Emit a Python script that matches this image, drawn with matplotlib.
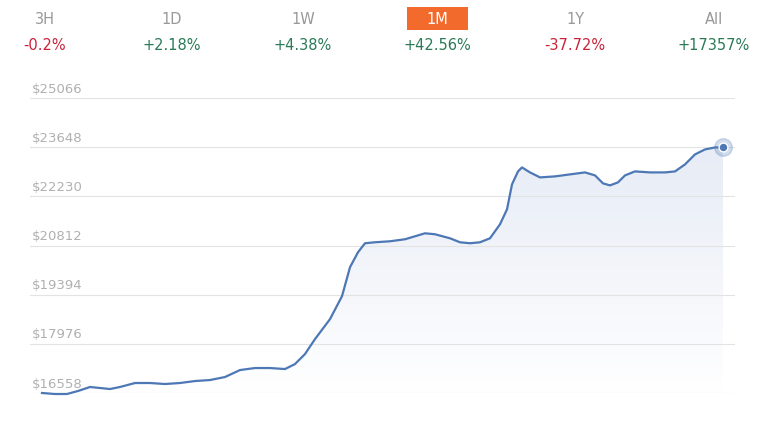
import matplotlib
matplotlib.use("Agg")
import matplotlib.pyplot as plt
import numpy as np
from matplotlib.patches import FancyBboxPatch

periods = ["3H", "1D", "1W", "1M", "1Y", "All"]
changes = ["-0.2%", "+2.18%", "+4.38%", "+42.56%", "-37.72%", "+17357%"]
ticks = [16558, 17976, 19394, 20812, 22230, 23648, 25066]
t = [0, 13, 25, 36, 48, 58, 68, 78, 93, 108, 123, 138, 153, 168, 183, 198, 213, 228, 243, 253, 263, 273,
     288, 300, 308, 316, 323, 333, 348, 363, 373, 383, 393, 408, 418, 428, 438, 448, 458, 465, 470, 476,
     480, 488, 498, 513, 528, 543, 553, 561, 568, 576, 583, 593, 608, 623, 633, 643, 653, 663, 673, 681]
price = [16558, 16529, 16529, 16616, 16731, 16702, 16673, 16731, 16846, 16846, 16817, 16846, 16903, 16932,
         17019, 17220, 17278, 17278, 17249, 17393, 17681, 18113, 18688, 19351, 20186, 20617, 20877, 20905,
         20934, 20992, 21078, 21164, 21136, 21020, 20905, 20877, 20905, 21020, 21424, 21855, 22575, 22949,
         23064, 22920, 22776, 22805, 22863, 22920, 22834, 22604, 22546, 22633, 22834, 22949, 22920, 22920,
         22949, 23151, 23439, 23583, 23640, 23640]

W, H = 771, 427
fig = plt.figure(figsize=(W/100, H/100), dpi=100)
fig.patch.set_facecolor("white")

def px(x, y):
    return x / W, 1 - y / H

xs = [45, 172, 303, 437, 575, 714]
for x, p, c in zip(xs, periods, changes):
    if p == "1M":
        fig.patches.append(FancyBboxPatch(px(407, 31), 61/W, 23/H, boxstyle="square,pad=0",
                                          transform=fig.transFigure, fc="#f26a2c", ec="none"))
        fig.text(*px(x, 20), p, color="white", fontsize=10.5, ha="center", va="center")
    else:
        fig.text(*px(x, 20), p, color="#999999", fontsize=10.5, ha="center", va="center")
    col = "#c8233b" if c.startswith("-") else "#2b7a57"
    fig.text(*px(x, 46), c, color=col, fontsize=10.5, ha="center", va="center")

ax_l, ax_r, ax_t, ax_b = 30, 735, 99, 394
ax = fig.add_axes([ax_l/W, 1-ax_b/H, (ax_r-ax_l)/W, (ax_b-ax_t)/H])
ax.set_xlim(-12, 693)
ax.set_ylim(ticks[0], ticks[-1])
for s in ax.spines.values():
    s.set_visible(False)
ax.set_xticks([]); ax.set_yticks([])
for v in ticks:
    ax.axhline(v, color="#e3e3e3", lw=0.8, zorder=2)
    ax.text(-10, v + 100, f"${v}", color="#b0b0b0", fontsize=9.5, va="bottom", ha="left")

ybot = ticks[0] - 60
grad = np.linspace(0, 1, 256).reshape(-1, 1)
im = ax.imshow(grad, extent=[t[0], t[-1], ybot, ticks[-1]], origin="lower", aspect="auto",
               cmap=matplotlib.colors.LinearSegmentedColormap.from_list("g", ["#ffffff", "#e2e8f4"]),
               zorder=1)
poly = ax.fill_between(t, price, ybot, color="none", lw=0)
im.set_clip_path(poly.get_paths()[0], transform=ax.transData)
ax.set_ylim(ticks[0], ticks[-1])
ax.set_xlim(-12, 693)
ax.plot(t, price, color="#4d78b5", lw=1.6, zorder=3, clip_on=False, solid_joinstyle="round")
ax.scatter([t[-1]], [price[-1]], s=160, color="#4d78b5", alpha=0.25, zorder=4, clip_on=False)
ax.scatter([t[-1]], [price[-1]], s=40, color="#4d78b5", edgecolor="white", lw=1, zorder=5, clip_on=False)

fig.savefig("out.png", dpi=100)
